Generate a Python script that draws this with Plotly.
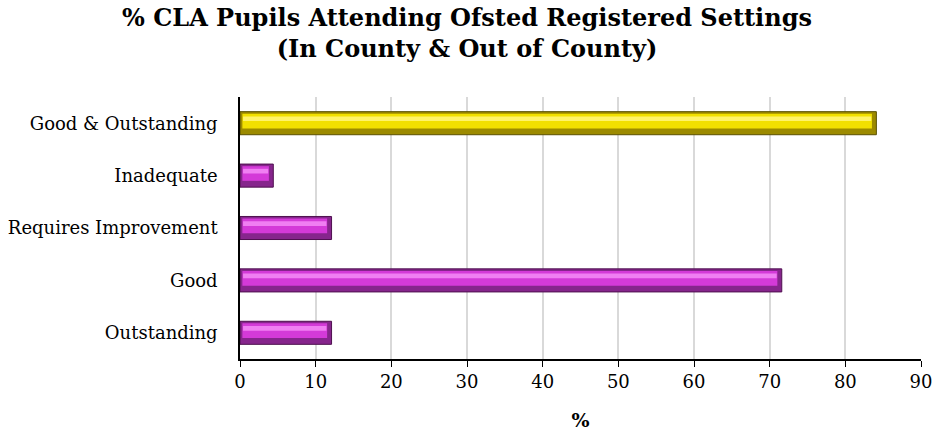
import plotly.graph_objects as go

categories = ["Outstanding", "Good", "Requires Improvement", "Inadequate", "Good & Outstanding"]
percent = [12.1, 71.6, 12.1, 4.4, 84.1]
x_ticks = [0, 10, 20, 30, 40, 50, 60, 70, 80, 90]

# (edge, body, face, highlight) shades per bar colour
magenta = ["#4E104F", "#86258C", "#D43AD8", "#F07FF2"]
yellow = ["#5A5000", "#9C8A00", "#F2E000", "#FFF36A"]

def shade(i, layer):
    return (yellow if categories[i] == "Good & Outstanding" else magenta)[layer]

n = len(categories)
inset = 0.9  # bevel inset along the bar length, in axis units
FONT = "DejaVu Serif, Liberation Serif, serif"
L, R, T, B, W, H = 240, 12, 97, 77, 933, 436

fig = go.Figure()
# darker body of each bar, giving the bevelled rim
fig.add_trace(go.Bar(
    y=categories, x=percent, orientation="h", width=0.44,
    marker=dict(color=[shade(i, 1) for i in range(n)],
                line=dict(color=[shade(i, 0) for i in range(n)], width=1)),
    hoverinfo="x+y", showlegend=False))
# bright face
fig.add_trace(go.Bar(
    y=categories, x=[v - inset for v in percent], base=[inset * 0.35] * n, orientation="h",
    width=0.28, offset=-0.1,
    marker=dict(color=[shade(i, 2) for i in range(n)], line=dict(width=0)),
    hoverinfo="skip", showlegend=False))
# light upper band
fig.add_trace(go.Bar(
    y=categories, x=[v - inset * 1.2 for v in percent], base=[inset * 0.45] * n, orientation="h",
    width=0.09, offset=0.04,
    marker=dict(color=[shade(i, 3) for i in range(n)], line=dict(width=0)),
    hoverinfo="skip", showlegend=False))

plot_w, plot_h = W - L - R, H - T - B
fig.add_annotation(
    text="<b>% CLA Pupils Attending Ofsted Registered Settings<br>(In County & Out of County)</b>",
    xref="paper", yref="paper",
    x=(W / 2 - L) / plot_w, y=1 + (T - 33) / plot_h,
    xanchor="center", yanchor="middle",
    showarrow=False, align="center",
    font=dict(size=24, family=FONT, color="#000000"))

fig.update_layout(
    barmode="overlay",
    width=W, height=H,
    margin=dict(l=L, r=R, t=T, b=B, autoexpand=False),
    paper_bgcolor="white", plot_bgcolor="white",
    font=dict(family=FONT, size=18, color="#000000"),
    xaxis=dict(
        range=[0, 90], tickvals=x_ticks, ticktext=[str(t) for t in x_ticks],
        showgrid=True, gridcolor="#D9D9D9", gridwidth=1.5,
        showline=True, linecolor="#000000", linewidth=1.5,
        ticks="outside", ticklen=6, tickcolor="#000000",
        zeroline=False, tickfont=dict(size=18), automargin=False,
        ticklabeloverflow="allow",
        title=dict(text="<b>%</b>", font=dict(size=19), standoff=22)),
    yaxis=dict(
        categoryorder="array", categoryarray=categories,
        showline=True, linecolor="#000000", linewidth=1.5,
        ticks="", showgrid=False, ticklabelstandoff=17,
        tickfont=dict(size=18), automargin=False,
        ticklabeloverflow="allow",
        range=[-0.5, n - 0.5]),
)

fig.write_html("out.html")
